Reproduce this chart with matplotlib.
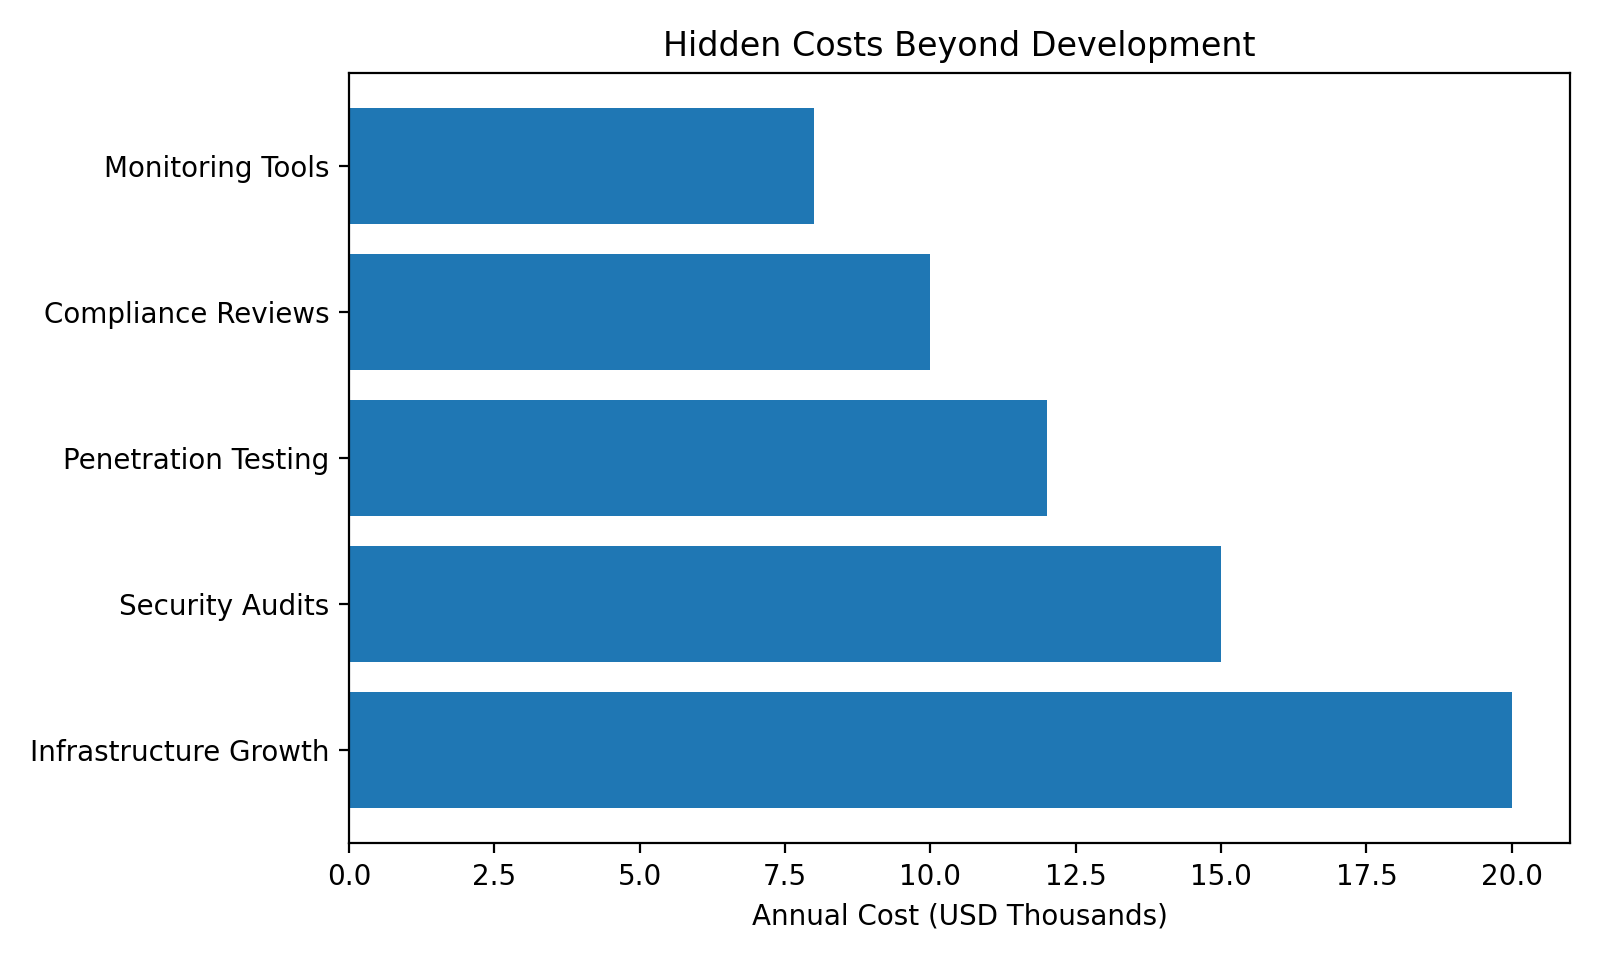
import matplotlib
matplotlib.use('Agg')
import matplotlib.pyplot as plt

# cost categories (bottom to top) and annual cost in USD thousands
categories = ['Infrastructure Growth', 'Security Audits', 'Penetration Testing',
              'Compliance Reviews', 'Monitoring Tools']
costs = [20, 15, 12, 10, 8]

fig, ax = plt.subplots(figsize=(8, 4.8), dpi=200)
ax.barh(categories, costs, color='#1f77b4')
ax.set_title('Hidden Costs Beyond Development')
ax.set_xlabel('Annual Cost (USD Thousands)')
plt.tight_layout()
plt.savefig('out.png')
